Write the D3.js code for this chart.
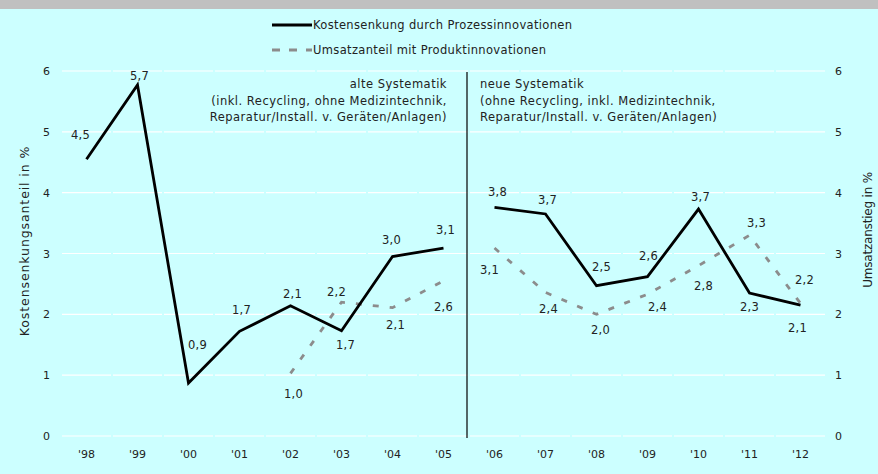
<!DOCTYPE html>
<html>
<head>
<meta charset="utf-8">
<script src="https://cdn.jsdelivr.net/npm/d3@7"></script>
<style>
  body { margin: 0; background: #ccffff; }
  svg { display: block; font-family: "DejaVu Sans", Verdana, sans-serif; }
</style>
</head>
<body>
<svg id="chart"></svg>
<script>
// categories and series
const years = ["'98", "'99", "'00", "'01", "'02", "'03", "'04", "'05", "'06", "'07", "'08", "'09", "'10", "'11", "'12"];
const kosten = [4.55, 5.77, 0.87, 1.72, 2.14, 1.73, 2.95, 3.09, 3.76, 3.65, 2.47, 2.62, 3.73, 2.35, 2.15];
const kostenLabels = ["4,5", "5,7", "0,9", "1,7", "2,1", "1,7", "3,0", "3,1", "3,8", "3,7", "2,5", "2,6", "3,7", "2,3", "2,1"];
const umsatz = [null, null, null, null, 1.03, 2.2, 2.11, 2.55, 3.09, 2.36, 2.0, 2.33, 2.8, 3.3, 2.18];
const umsatzLabels = [null, null, null, null, "1,0", "2,2", "2,1", "2,6", "3,1", "2,4", "2,0", "2,4", "2,8", "3,3", "2,2"];
const yTicks = [0, 1, 2, 3, 4, 5, 6];
const breakAfter = "'05"; // change of classification

// label offsets from the point (placement only)
const kostenOff = [[-6, -24], [2, -9], [9, -38], [2, -21], [2, -12], [4, 14], [-1, -17], [2, -18],
                   [3, -15], [2, -14], [5, -19], [1, -21], [2, -12], [0, 14], [-3, 23]];
const umsatzOff = [null, null, null, null, [3, 21], [-5, -10], [3, 17], [0, 26],
                   [-5, 22], [3, 17], [4, 16], [10, 13], [5, 20], [7, -12], [4, -23]];

const width = 878, height = 474;
const svg = d3.select("#chart").attr("width", width).attr("height", height);

svg.append("rect").attr("width", width).attr("height", height).attr("fill", "#ccffff");
svg.append("rect").attr("width", width).attr("height", 9).attr("fill", "#c0c0c0");

const x = d3.scaleBand().domain(years).range([61, 826]);
const xc = d => x(d) + x.bandwidth() / 2;
const y = d3.scaleLinear().domain([0, 6]).range([436, 71]);

// gridlines, drawn per category with tiny gaps like the original
const grid = svg.append("g");
yTicks.forEach(t => {
  years.forEach(c => {
    grid.append("line")
      .attr("x1", x(c) + 1).attr("x2", x(c) + x.bandwidth() - 1)
      .attr("y1", y(t)).attr("y2", y(t))
      .attr("stroke", "#ffffff").attr("stroke-width", 1.2);
  });
});

// axes
const axisL = svg.append("g").attr("transform", "translate(50,0)")
  .call(d3.axisLeft(y).tickValues(yTicks).tickFormat(d3.format("d")).tickSize(0).tickPadding(0));
const axisR = svg.append("g").attr("transform", "translate(835,0)")
  .call(d3.axisRight(y).tickValues(yTicks).tickFormat(d3.format("d")).tickSize(0).tickPadding(0));
const axisB = svg.append("g").attr("transform", "translate(0,450.5)")
  .call(d3.axisBottom(x).tickSize(0).tickPadding(0));
[axisL, axisR, axisB].forEach(a => {
  a.select(".domain").remove();
  a.selectAll("text").attr("font-family", "DejaVu Sans, Verdana, sans-serif")
    .attr("font-size", "11px").attr("fill", "#222");
});
axisB.selectAll("text").attr("dy", "0.71em");

// axis titles
svg.append("text")
  .attr("transform", "translate(29,241) rotate(-90)")
  .attr("text-anchor", "middle")
  .attr("font-size", "12.5px").attr("letter-spacing", "0.9px").attr("fill", "#222")
  .text("Kostensenkungsanteil in %");
svg.append("text")
  .attr("transform", "translate(872,230) rotate(-90)")
  .attr("text-anchor", "middle")
  .attr("font-size", "12px").attr("letter-spacing", "-0.2px").attr("fill", "#222")
  .text("Umsatzanstieg in %");

// divider between old and new classification
const divX = x(breakAfter) + x.bandwidth();
svg.append("line")
  .attr("x1", divX - 2).attr("x2", divX - 2)
  .attr("y1", 72).attr("y2", 438)
  .attr("stroke", "#000").attr("stroke-width", 1.2);

const noteL = ["alte Systematik", "(inkl. Recycling, ohne Medizintechnik,", "Reparatur/Install. v. Geräten/Anlagen)"];
const noteR = ["neue Systematik", "(ohne Recycling, inkl. Medizintechnik,", "Reparatur/Install. v. Geräten/Anlagen)"];
noteL.forEach((s, i) => {
  svg.append("text").attr("x", divX - 22).attr("y", 88 + i * 16.5)
    .attr("text-anchor", "end").attr("font-size", "11.5px").attr("letter-spacing", "0.5px")
    .attr("fill", "#222").text(s);
});
noteR.forEach((s, i) => {
  svg.append("text").attr("x", divX + 11).attr("y", 88 + i * 16.5)
    .attr("font-size", "11.5px").attr("letter-spacing", "0.5px")
    .attr("fill", "#222").text(s);
});

// lines, broken at the classification change
function drawSeries(vals, stroke, dash) {
  const pts = years.map((c, i) => ({ c, v: vals[i] }));
  const bi = years.indexOf(breakAfter);
  [pts.slice(0, bi + 1), pts.slice(bi + 1)].forEach(part => {
    svg.append("path")
      .datum(part.filter(d => d.v != null))
      .attr("fill", "none")
      .attr("stroke", stroke)
      .attr("stroke-width", 2.8)
      .attr("stroke-dasharray", dash)
      .attr("d", d3.line().x(d => xc(d.c)).y(d => y(d.v)));
  });
}
drawSeries(umsatz, "#8c8c8c", "6,11");
drawSeries(kosten, "#000000", null);

// value labels
function drawLabels(vals, labels, offs) {
  svg.append("g").selectAll("text")
    .data(years.map((c, i) => ({ c, v: vals[i], t: labels[i], o: offs[i] })).filter(d => d.v != null))
    .enter().append("text")
    .attr("x", d => xc(d.c) + d.o[0])
    .attr("y", d => y(d.v) + d.o[1])
    .attr("dy", "0.35em")
    .attr("text-anchor", "middle")
    .attr("font-size", "11.5px").attr("letter-spacing", "0.3px").attr("fill", "#222")
    .text(d => d.t);
}
drawLabels(kosten, kostenLabels, kostenOff);
drawLabels(umsatz, umsatzLabels, umsatzOff);

// legend
const legend = svg.append("g").attr("transform", "translate(272,0)");
legend.append("line").attr("x1", 0).attr("x2", 40).attr("y1", 25).attr("y2", 25)
  .attr("stroke", "#000").attr("stroke-width", 3);
legend.append("text").attr("x", 41).attr("y", 25).attr("dy", "0.35em")
  .attr("font-size", "11.5px").attr("letter-spacing", "0.35px").attr("fill", "#222")
  .text("Kostensenkung durch Prozessinnovationen");
legend.append("line").attr("x1", 0).attr("x2", 40).attr("y1", 50).attr("y2", 50)
  .attr("stroke", "#8c8c8c").attr("stroke-width", 3).attr("stroke-dasharray", "8,9");
legend.append("text").attr("x", 41).attr("y", 50).attr("dy", "0.35em")
  .attr("font-size", "11.5px").attr("letter-spacing", "0.35px").attr("fill", "#222")
  .text("Umsatzanteil mit Produktinnovationen");
</script>
</body>
</html>
